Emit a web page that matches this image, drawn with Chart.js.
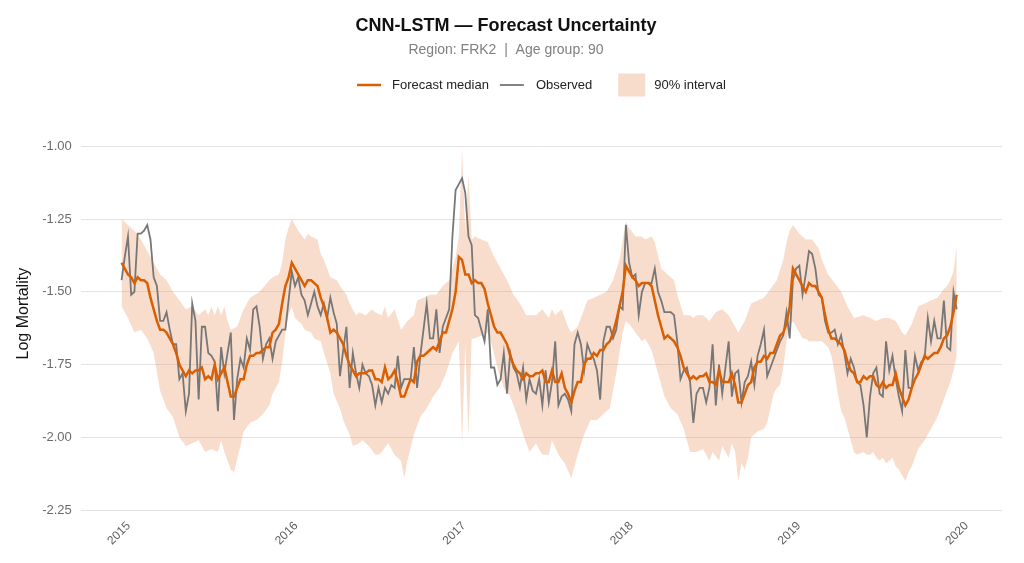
<!DOCTYPE html>
<html>
<head>
<meta charset="utf-8">
<script src="https://cdn.jsdelivr.net/npm/chart.js@4.4.1/dist/chart.umd.min.js"></script>
<style>
  html, body { margin: 0; padding: 0; background: #fff; }
  canvas { display: block; }
</style>
</head>
<body>
<canvas id="myChart" width="1024" height="563"></canvas>
<script>
// weekly series, week 0 = first week of 2015
const startYear = 2015;
const yearTicks = [2015, 2016, 2017, 2018, 2019, 2020];
const yTicks = [-2.25, -2.00, -1.75, -1.50, -1.25, -1.00];

const observed = [
  -1.46, -1.38, -1.31, -1.51, -1.50, -1.30, -1.30, -1.29, -1.27, -1.32,
  -1.45, -1.48, -1.60, -1.60, -1.57, -1.63, -1.68, -1.68, -1.80, -1.78,
  -1.91, -1.85, -1.54, -1.60, -1.87, -1.62, -1.62, -1.71, -1.72, -1.74,
  -1.91, -1.69, -1.78, -1.71, -1.64, -1.94, -1.80, -1.73, -1.76, -1.66,
  -1.70, -1.56, -1.55, -1.62, -1.73, -1.68, -1.66, -1.73, -1.67, -1.65,
  -1.63, -1.63, -1.53, -1.43, -1.48, -1.45, -1.51, -1.53, -1.58, -1.54,
  -1.50, -1.55, -1.58, -1.54, -1.59, -1.52, -1.57, -1.61, -1.79, -1.70,
  -1.62, -1.83, -1.71, -1.78, -1.83, -1.75, -1.78, -1.79, -1.82, -1.89,
  -1.83, -1.88, -1.83, -1.85, -1.82, -1.83, -1.72, -1.83, -1.80, -1.80,
  -1.80, -1.69, -1.83, -1.72, -1.63, -1.54, -1.66, -1.66, -1.56, -1.71,
  -1.62, -1.59, -1.56, -1.31, -1.15, -1.13, -1.11, -1.16, -1.31, -1.34,
  -1.58, -1.59, -1.63, -1.67, -1.56, -1.76, -1.76, -1.82, -1.80, -1.71,
  -1.85, -1.71, -1.76, -1.78, -1.83, -1.76, -1.87, -1.80, -1.84, -1.85,
  -1.80, -1.89, -1.77, -1.88, -1.81, -1.67, -1.89, -1.86, -1.85, -1.87,
  -1.91, -1.68, -1.64, -1.68, -1.77, -1.68, -1.71, -1.73, -1.77, -1.87,
  -1.67, -1.62, -1.62, -1.66, -1.63, -1.55, -1.56, -1.27, -1.40, -1.45,
  -1.44, -1.58, -1.50, -1.47, -1.47, -1.47, -1.42, -1.50, -1.53, -1.57,
  -1.57, -1.57, -1.58, -1.67, -1.80, -1.77, -1.76, -1.81, -1.95, -1.85,
  -1.83, -1.83, -1.88, -1.83, -1.68, -1.89, -1.75, -1.85, -1.76, -1.67,
  -1.86, -1.78, -1.77, -1.88, -1.81, -1.79, -1.74, -1.82, -1.72, -1.68,
  -1.63, -1.79, -1.76, -1.73, -1.70, -1.67, -1.65, -1.57, -1.66, -1.46,
  -1.42, -1.41, -1.51, -1.44, -1.36, -1.37, -1.42, -1.51, -1.52, -1.60,
  -1.64, -1.64, -1.63, -1.68, -1.65, -1.71, -1.78, -1.73, -1.76, -1.81,
  -1.82, -1.89, -2.00, -1.86, -1.78, -1.76, -1.85, -1.86, -1.67, -1.77,
  -1.72, -1.80, -1.86, -1.91, -1.70, -1.83, -1.83, -1.72, -1.77, -1.74,
  -1.73, -1.59, -1.67, -1.60, -1.66, -1.66, -1.53, -1.69, -1.70, -1.50,
  -1.56
];

const median = [
  -1.40, -1.42, -1.44, -1.45, -1.47, -1.45, -1.46, -1.46, -1.47, -1.52,
  -1.56, -1.60, -1.63, -1.63, -1.64, -1.66, -1.68, -1.71, -1.75, -1.77,
  -1.79, -1.77, -1.78, -1.77, -1.77, -1.76, -1.80, -1.79, -1.80, -1.75,
  -1.80, -1.78, -1.76, -1.81, -1.86, -1.86, -1.83, -1.80, -1.80, -1.75,
  -1.72, -1.72, -1.71, -1.71, -1.70, -1.69, -1.69, -1.64, -1.63, -1.61,
  -1.54, -1.48, -1.45, -1.40, -1.42, -1.44, -1.46, -1.48, -1.46, -1.46,
  -1.47, -1.48, -1.52, -1.55, -1.59, -1.64, -1.63, -1.64, -1.66, -1.68,
  -1.72, -1.75, -1.77, -1.79, -1.78, -1.78, -1.78, -1.77, -1.77, -1.80,
  -1.80, -1.81, -1.76, -1.80, -1.79, -1.77, -1.81, -1.86, -1.86, -1.83,
  -1.80, -1.81, -1.74, -1.72, -1.72, -1.71, -1.70, -1.69, -1.70, -1.67,
  -1.64, -1.64, -1.60, -1.56, -1.50, -1.38, -1.39, -1.44, -1.44, -1.47,
  -1.46, -1.47, -1.47, -1.49, -1.54, -1.58, -1.62, -1.64, -1.64, -1.66,
  -1.68, -1.72, -1.75, -1.77, -1.78, -1.80, -1.78, -1.79, -1.79, -1.78,
  -1.78, -1.77, -1.81, -1.81, -1.77, -1.81, -1.81, -1.78, -1.83, -1.85,
  -1.88, -1.84, -1.81, -1.81, -1.75, -1.73, -1.73, -1.71, -1.72, -1.70,
  -1.70, -1.68, -1.67, -1.64, -1.60, -1.55, -1.50, -1.41, -1.43, -1.45,
  -1.46, -1.48, -1.47, -1.47, -1.47, -1.48, -1.53, -1.58, -1.62, -1.66,
  -1.65, -1.66, -1.67, -1.69, -1.72, -1.76, -1.78, -1.80, -1.79, -1.80,
  -1.79, -1.79, -1.78, -1.81, -1.81, -1.82, -1.77, -1.81, -1.81, -1.81,
  -1.78, -1.82, -1.88, -1.88, -1.85, -1.82, -1.81, -1.76, -1.74, -1.74,
  -1.72, -1.73, -1.71, -1.71, -1.68, -1.65, -1.64, -1.61, -1.55, -1.42,
  -1.44, -1.46, -1.48, -1.50, -1.47, -1.48, -1.48, -1.50, -1.52, -1.58,
  -1.63, -1.66, -1.66, -1.67, -1.68, -1.70, -1.74, -1.77, -1.78, -1.81,
  -1.81, -1.79, -1.80, -1.79, -1.79, -1.82, -1.83, -1.81, -1.83, -1.82,
  -1.82, -1.78, -1.83, -1.86, -1.89, -1.87, -1.83, -1.80, -1.78, -1.75,
  -1.72, -1.73, -1.72, -1.71, -1.71, -1.69, -1.66, -1.65, -1.62, -1.57,
  -1.51
];

// 90% interval, read at the weeks where the edge turns
const upperWeeks = [
  0, 2, 4, 6, 8, 10, 12, 14, 16, 18, 20, 22, 24, 26, 27, 28, 29, 30, 31, 32,
  33, 34, 36, 38, 40, 43, 46, 47, 49, 50, 51, 52, 53, 54, 55, 57, 58, 59, 61, 62,
  63, 65, 67, 68, 70, 71, 73, 74, 76, 78, 79, 81, 82, 83, 85, 87, 89, 91, 92, 94,
  96, 98, 100, 102, 104, 105, 106, 107, 108, 109, 110, 112, 114, 116, 118, 120, 122, 124, 126, 127,
  129, 131, 133, 134, 135, 137, 138, 139, 140, 142, 144, 145, 147, 149, 151, 153, 155, 157, 158, 160,
  162, 163, 165, 166, 168, 170, 172, 173, 175, 177, 178, 179, 181, 183, 185, 187, 189, 191, 192, 194,
  196, 198, 200, 202, 204, 206, 207, 208, 209, 211, 213, 215, 217, 218, 220, 222, 224, 226, 228, 231,
  233, 235, 237, 239, 241, 243, 244, 246, 248, 250, 252, 254, 256, 257, 258, 259, 260
];
const upper = [
  -1.25, -1.27, -1.29, -1.32, -1.36, -1.40, -1.44, -1.46, -1.50, -1.53, -1.56, -1.55, -1.58, -1.56, -1.58, -1.55, -1.58, -1.55, -1.58, -1.55,
  -1.60, -1.63, -1.62, -1.56, -1.52, -1.50, -1.46, -1.45, -1.44, -1.40, -1.32, -1.28, -1.25, -1.27, -1.29, -1.32, -1.30, -1.31, -1.32, -1.37,
  -1.39, -1.45, -1.46, -1.48, -1.51, -1.54, -1.58, -1.57, -1.58, -1.56, -1.57, -1.58, -1.55, -1.59, -1.56, -1.63, -1.60, -1.58, -1.53, -1.52,
  -1.51, -1.51, -1.48, -1.46, -1.38, -1.31, -1.01, -1.29, -1.10, -1.32, -1.31, -1.32, -1.33, -1.38, -1.42, -1.46, -1.51, -1.54, -1.58, -1.58,
  -1.58, -1.56, -1.59, -1.56, -1.58, -1.56, -1.59, -1.62, -1.64, -1.62, -1.56, -1.53, -1.52, -1.51, -1.50, -1.46, -1.39, -1.26, -1.28, -1.31,
  -1.31, -1.32, -1.31, -1.33, -1.42, -1.44, -1.46, -1.51, -1.58, -1.58, -1.59, -1.58, -1.58, -1.60, -1.57, -1.56, -1.58, -1.62, -1.64, -1.60,
  -1.54, -1.53, -1.52, -1.49, -1.46, -1.39, -1.33, -1.29, -1.27, -1.30, -1.32, -1.32, -1.35, -1.39, -1.44, -1.47, -1.50, -1.55, -1.59, -1.58,
  -1.59, -1.60, -1.59, -1.59, -1.60, -1.64, -1.65, -1.61, -1.55, -1.54, -1.53, -1.52, -1.49, -1.48, -1.46, -1.43, -1.34
];
const lowerWeeks = [
  0, 2, 4, 6, 8, 10, 12, 14, 16, 18, 20, 22, 24, 26, 28, 30, 31, 32, 34, 35,
  37, 38, 40, 42, 44, 46, 47, 49, 50, 51, 52, 53, 54, 56, 57, 59, 60, 62, 63, 65,
  66, 68, 69, 71, 72, 74, 75, 77, 79, 80, 81, 83, 85, 87, 88, 89, 91, 93, 95, 97,
  99, 101, 103, 104, 105, 106, 107, 108, 109, 110, 114, 115, 117, 119, 121, 123, 125, 127, 129, 131,
  133, 134, 136, 138, 140, 142, 144, 146, 148, 150, 152, 154, 155, 156, 157, 158, 160, 162, 163, 165,
  167, 169, 171, 173, 175, 177, 179, 181, 183, 184, 186, 187, 189, 190, 191, 192, 193, 194, 195, 196,
  198, 200, 201, 202, 203, 204, 205, 206, 207, 208, 209, 210, 211, 212, 213, 214, 215, 217, 218, 220,
  221, 222, 223, 224, 225, 226, 227, 228, 229, 231, 232, 233, 234, 235, 236, 237, 238, 239, 240, 241,
  242, 243, 244, 245, 246, 248, 250, 252, 254, 256, 258, 259, 260
];
const lower = [
  -1.55, -1.59, -1.64, -1.63, -1.66, -1.71, -1.84, -1.90, -1.93, -2.00, -2.03, -2.02, -2.01, -2.05, -2.04, -2.05, -2.01, -2.05, -2.11, -2.12,
  -2.03, -1.98, -1.95, -1.94, -1.92, -1.89, -1.85, -1.81, -1.74, -1.64, -1.58, -1.55, -1.59, -1.61, -1.63, -1.64, -1.66, -1.67, -1.71, -1.78,
  -1.85, -1.90, -1.94, -1.99, -2.03, -2.02, -2.01, -2.03, -2.06, -2.06, -2.05, -2.02, -2.06, -2.08, -2.14, -2.08, -1.99, -1.93, -1.90, -1.86,
  -1.83, -1.78, -1.71, -1.69, -1.67, -2.02, -1.68, -2.00, -1.66, -1.66, -1.64, -1.67, -1.76, -1.83, -1.86, -1.92, -1.99, -2.05, -2.02, -2.06,
  -2.06, -2.01, -2.06, -2.09, -2.14, -2.06, -1.99, -1.94, -1.94, -1.92, -1.90, -1.78, -1.71, -1.64, -1.60, -1.61, -1.64, -1.67, -1.66, -1.70,
  -1.78, -1.86, -1.90, -1.92, -1.97, -2.05, -2.05, -2.04, -2.08, -2.05, -2.08, -2.03, -2.07, -2.02, -2.05, -2.15, -2.09, -2.11, -2.07, -2.00,
  -1.98, -1.97, -1.95, -1.90, -1.85, -1.83, -1.82, -1.76, -1.67, -1.62, -1.60, -1.62, -1.64, -1.66, -1.66, -1.67, -1.67, -1.67, -1.67, -1.69,
  -1.72, -1.78, -1.85, -1.91, -1.93, -1.97, -2.01, -2.05, -2.06, -2.05, -2.06, -2.06, -2.05, -2.07, -2.08, -2.07, -2.09, -2.08, -2.07, -2.10,
  -2.11, -2.13, -2.15, -2.12, -2.10, -2.04, -2.01, -1.97, -1.93, -1.87, -1.81, -1.77, -1.72
];

const medianColor = '#d95f02';
const observedColor = '#777777';
const bandColor = 'rgba(232, 145, 95, 0.32)';
const bandSwatch = '#f7dccb';

function weekToYear(w) {
  return startYear + w * 7 / 365.25;
}
function toPoints(weeks, values) {
  return values.map((v, i) => ({ x: weekToYear(weeks ? weeks[i] : i), y: v }));
}

const ctx = document.getElementById('myChart').getContext('2d');

// legend drawn over the plot panel, like the original figure
const panelLegend = {
  id: 'panelLegend',
  afterDraw(chart) {
    const c = chart.ctx;
    const area = chart.chartArea;
    const y = 85;
    c.save();
    c.font = '13px "Liberation Sans", Arial, sans-serif';
    c.textBaseline = 'middle';
    c.fillStyle = '#222';
    const t1 = 'Forecast median', t2 = 'Observed', t3 = '90% interval';
    const w1 = c.measureText(t1).width;
    const w2 = c.measureText(t2).width;
    const w3 = c.measureText(t3).width;
    const total = 24 + 11 + w1 + 11 + 24 + 12 + w2 + 26 + 27 + 9 + w3;
    let x = (area.left + area.right) / 2 - total / 2;

    c.strokeStyle = medianColor;
    c.lineWidth = 2.5;
    c.beginPath(); c.moveTo(x, y); c.lineTo(x + 24, y); c.stroke();
    x += 35;
    c.fillText(t1, x, y);
    x += w1 + 11;

    c.strokeStyle = observedColor;
    c.lineWidth = 1.8;
    c.beginPath(); c.moveTo(x, y); c.lineTo(x + 24, y); c.stroke();
    x += 36;
    c.fillText(t2, x, y);
    x += w2 + 26;

    c.fillStyle = bandSwatch;
    c.fillRect(x, y - 11.5, 27, 23);
    x += 36;
    c.fillStyle = '#222';
    c.fillText(t3, x, y);
    c.restore();
  }
};

const config = {
  type: 'line',
  data: {
    datasets: [
      {
        label: 'Forecast median',
        data: toPoints(null, median),
        borderColor: medianColor,
        borderWidth: 2.5,
        pointRadius: 0,
        fill: false,
        tension: 0,
      },
      {
        label: 'Observed',
        data: toPoints(null, observed),
        borderColor: observedColor,
        borderWidth: 1.8,
        pointRadius: 0,
        fill: false,
        tension: 0,
      },
      {
        label: '90% interval',
        data: toPoints(upperWeeks, upper),
        borderColor: 'transparent',
        borderWidth: 0,
        backgroundColor: bandColor,
        pointRadius: 0,
        fill: '+1',
        tension: 0,
      },
      {
        label: '90% lower',
        data: toPoints(lowerWeeks, lower),
        borderColor: 'transparent',
        borderWidth: 0,
        pointRadius: 0,
        fill: false,
        tension: 0,
      },
    ]
  },
  options: {
    responsive: false,
    animation: false,
    layout: { padding: { left: 10, right: 22, top: 0, bottom: 12 } },
    plugins: {
      legend: { display: false },
      tooltip: { enabled: false },
      title: {
        display: true,
        text: 'CNN-LSTM — Forecast Uncertainty',
        color: '#111',
        font: { family: '"Liberation Sans", Arial, sans-serif', size: 18, weight: 'bold' },
        padding: { top: 15, bottom: 5 },
      },
      subtitle: {
        display: true,
        text: 'Region: FRK2  |  Age group: 90',
        color: '#808080',
        font: { family: '"Liberation Sans", Arial, sans-serif', size: 14 },
        padding: { top: 0, bottom: 53 },
      },
    },
    scales: {
      x: {
        type: 'linear',
        min: 2014.757,
        max: 2020.253,
        grid: { display: false, drawTicks: false },
        border: { display: false },
        afterBuildTicks: (axis) => {
          axis.ticks = yearTicks.map(v => ({ value: v }));
        },
        ticks: {
          color: '#5f5f5f',
          font: { family: '"Liberation Sans", Arial, sans-serif', size: 12 },
          maxRotation: 45,
          minRotation: 45,
          padding: 3,
          labelOffset: 7,
          callback: (v) => String(v),
        },
      },
      y: {
        min: -2.27,
        max: -0.88,
        grid: { color: '#e3e3e3', lineWidth: 1, drawTicks: false },
        border: { display: false },
        afterBuildTicks: (axis) => {
          axis.ticks = yTicks.map(v => ({ value: v }));
        },
        ticks: {
          color: '#6b6b6b',
          font: { family: '"Liberation Sans", Arial, sans-serif', size: 13 },
          padding: 9,
          callback: (v) => Number(v).toFixed(2),
        },
        title: {
          display: true,
          text: 'Log Mortality',
          color: '#111',
          font: { family: '"Liberation Sans", Arial, sans-serif', size: 16 },
          padding: { top: 4, bottom: 0 },
        },
      },
    },
  },
  plugins: [panelLegend],
};

const myChart = new Chart(ctx, config);
</script>
</body>
</html>
